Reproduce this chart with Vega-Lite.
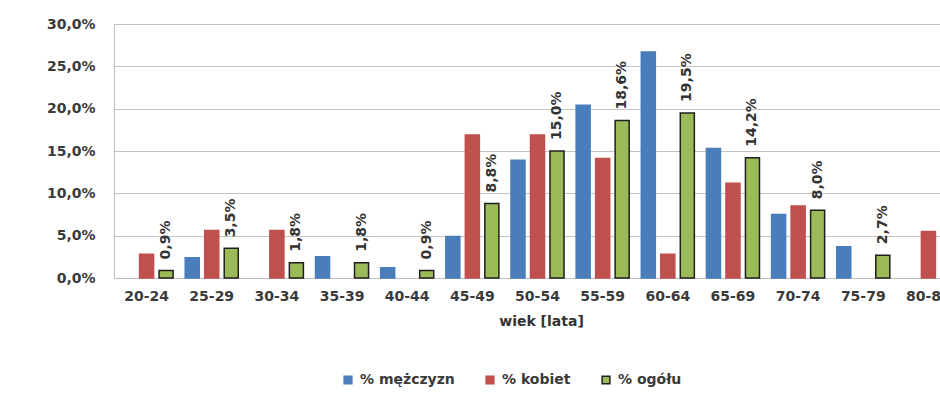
{
  "$schema": "https://vega.github.io/schema/vega-lite/v6.json",
  "autosize": {"type": "none"},
  "padding": {"left": 114, "top": 24, "right": 0, "bottom": 129},
  "width": 826,
  "height": 254,
  "background": "white",
  "config": {
    "view": {"stroke": null},
    "font": "DejaVu Sans"
  },
  "data": {
    "values": [
      {"age": "25-29", "series": "% mężczyzn", "value": 2.4},
      {"age": "35-39", "series": "% mężczyzn", "value": 2.5},
      {"age": "40-44", "series": "% mężczyzn", "value": 1.2},
      {"age": "45-49", "series": "% mężczyzn", "value": 4.9},
      {"age": "50-54", "series": "% mężczyzn", "value": 13.9},
      {"age": "55-59", "series": "% mężczyzn", "value": 20.4},
      {"age": "60-64", "series": "% mężczyzn", "value": 26.7},
      {"age": "65-69", "series": "% mężczyzn", "value": 15.3},
      {"age": "70-74", "series": "% mężczyzn", "value": 7.5},
      {"age": "75-79", "series": "% mężczyzn", "value": 3.7},
      {"age": "20-24", "series": "% kobiet", "value": 2.8},
      {"age": "25-29", "series": "% kobiet", "value": 5.6},
      {"age": "30-34", "series": "% kobiet", "value": 5.6},
      {"age": "45-49", "series": "% kobiet", "value": 16.9},
      {"age": "50-54", "series": "% kobiet", "value": 16.9},
      {"age": "55-59", "series": "% kobiet", "value": 14.1},
      {"age": "60-64", "series": "% kobiet", "value": 2.8},
      {"age": "65-69", "series": "% kobiet", "value": 11.2},
      {"age": "70-74", "series": "% kobiet", "value": 8.5},
      {"age": "80-84", "series": "% kobiet", "value": 5.5},
      {"age": "20-24", "series": "% ogółu", "value": 0.9},
      {"age": "25-29", "series": "% ogółu", "value": 3.5},
      {"age": "30-34", "series": "% ogółu", "value": 1.8},
      {"age": "35-39", "series": "% ogółu", "value": 1.8},
      {"age": "40-44", "series": "% ogółu", "value": 0.9},
      {"age": "45-49", "series": "% ogółu", "value": 8.8},
      {"age": "50-54", "series": "% ogółu", "value": 15.0},
      {"age": "55-59", "series": "% ogółu", "value": 18.6},
      {"age": "60-64", "series": "% ogółu", "value": 19.5},
      {"age": "65-69", "series": "% ogółu", "value": 14.2},
      {"age": "70-74", "series": "% ogółu", "value": 8.0},
      {"age": "75-79", "series": "% ogółu", "value": 2.7},
      {"age": "80-84", "series": "% ogółu", "value": 1.8}
    ]
  },
  "encoding": {
    "x": {
      "field": "age",
      "type": "nominal",
      "sort": ["20-24", "25-29", "30-34", "35-39", "40-44", "45-49", "50-54", "55-59", "60-64", "65-69", "70-74", "75-79", "80-84"],
      "scale": {"range": [0, 847], "paddingInner": 0, "paddingOuter": 0},
      "axis": {
        "title": "wiek [lata]",
        "titleX": 427,
        "titleFont": "DejaVu Sans",
        "titleFontWeight": "bold",
        "titleFontSize": 14,
        "titleColor": "#333333",
        "titlePadding": 11,
        "labelAngle": 0,
        "labelFont": "DejaVu Sans",
        "labelFontWeight": "bold",
        "labelFontSize": 14,
        "labelColor": "#3a3a3a",
        "labelPadding": 11,
        "ticks": false,
        "domainColor": "#bdbdbd",
        "grid": false
      }
    },
    "xOffset": {
      "field": "series",
      "type": "nominal",
      "sort": ["% mężczyzn", "% kobiet", "% ogółu"],
      "scale": {"paddingInner": 0.28, "paddingOuter": 0.31}
    },
    "y": {
      "field": "value",
      "type": "quantitative",
      "scale": {"domain": [0, 30], "nice": false},
      "axis": {
        "title": null,
        "values": [0, 5, 10, 15, 20, 25, 30],
        "labelExpr": "replace(format(datum.value, '.1f'), '.', ',') + '%'",
        "labelFont": "DejaVu Sans",
        "labelFontWeight": "bold",
        "labelFontSize": 14,
        "labelColor": "#3a3a3a",
        "labelPadding": 19,
        "ticks": false,
        "domainColor": "#bdbdbd",
        "gridColor": "#c4c4c4"
      }
    }
  },
  "layer": [
    {
      "mark": {"type": "bar", "strokeWidth": 1.5},
      "encoding": {
        "color": {
          "field": "series",
          "type": "nominal",
          "sort": ["% mężczyzn", "% kobiet", "% ogółu"],
          "scale": {"domain": ["% mężczyzn", "% kobiet", "% ogółu"], "range": ["#4a7ebb", "#c0504d", "#9bbb59"]},
          "legend": {
            "title": null,
            "orient": "none",
            "direction": "horizontal",
            "legendX": 227,
            "legendY": 349,
            "symbolType": "square",
            "symbolSize": 60,
            "symbolStrokeWidth": 1.5,
            "labelFont": "DejaVu Sans",
            "labelFontWeight": "bold",
            "labelFontSize": 14,
            "labelColor": "#3a3a3a",
            "columnPadding": 28,
            "labelOffset": 5
          }
        },
        "stroke": {
          "field": "series",
          "type": "nominal",
          "sort": ["% mężczyzn", "% kobiet", "% ogółu"],
          "scale": {"domain": ["% mężczyzn", "% kobiet", "% ogółu"], "range": ["#4a7ebb", "#c0504d", "#1f1f1f"]}
        }
      }
    },
    {
      "transform": [
        {"filter": "datum.series === '% ogółu'"},
        {"calculate": "replace(format(datum.value, '.1f'), '.', ',') + '%'", "as": "label"}
      ],
      "mark": {
        "type": "text",
        "angle": 270,
        "align": "left",
        "baseline": "middle",
        "dx": 11,
        "font": "DejaVu Sans",
        "fontWeight": "bold",
        "fontSize": 14,
        "color": "#333333"
      },
      "encoding": {
        "text": {"field": "label"}
      }
    }
  ]
}
